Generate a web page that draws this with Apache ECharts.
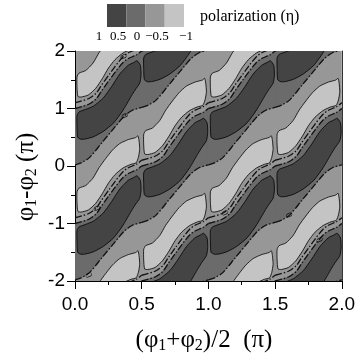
<!DOCTYPE html>
<html><head><meta charset="utf-8">
<script src="https://cdn.jsdelivr.net/npm/echarts@6/dist/echarts.min.js"></script>
<style>html,body{margin:0;padding:0;background:#fff}#c{width:358px;height:361px}</style>
</head><body><div id="c"></div><script>
// ---- data (x = (phi1+phi2)/2 in pi, y = phi1-phi2 in pi) ----
const levelColors = ['#444444', '#6b6b6b', '#979797', '#c4c4c4']; // eta: 1..0.5, 0.5..0, 0..-0.5, -0.5..-1
const levelLabels = ['1', '0.5', '0', '\u22120.5', '\u22121'];
// light blob (eta < -0.5) in one tile
const lightBlob = [[0.522,0.21],[0.515,0.365],[0.515,0.55],[0.530,0.615],[0.58,0.66],[0.635,0.79],[0.68,0.97],[0.73,1.13],[0.78,1.275],[0.835,1.39],[0.9,1.46],[0.955,1.495],[0.972,1.525],[0.98,1.44],[0.985,1.29],[0.975,1.15],[0.958,1.055],[0.92,1.03],[0.86,0.965],[0.8,0.85],[0.75,0.7],[0.705,0.52],[0.655,0.35],[0.6,0.235],[0.547,0.2]];
// dark blob (eta > 0.5) in one tile
const darkBlob = [[0.02,0.5],[0.015,0.7],[0.015,0.88],[0.03,0.94],[0.08,0.985],[0.137,1.04],[0.211,1.18],[0.274,1.38],[0.336,1.6],[0.398,1.75],[0.44,1.8],[0.465,1.83],[0.49,1.75],[0.495,1.58],[0.485,1.44],[0.45,1.32],[0.423,1.22],[0.36,0.97],[0.29,0.75],[0.211,0.6],[0.14,0.51],[0.08,0.47],[0.045,0.465]];
// eta = 0 line below-right of the dark chain
const zeroLineS = [[0,0.02],[0.05,0.06],[0.11,0.15],[0.2,0.4],[0.3,0.68],[0.37,0.87],[0.43,0.97],[0.5,1.02]];
// the two close eta = 0 lines above-left of the dark chain
const zeroLineD1 = [[0,1.0],[0.1,1.07],[0.16,1.17],[0.2,1.31],[0.25,1.47],[0.3,1.63],[0.36,1.8],[0.4,1.87],[0.46,1.93],[0.5,2.0]];
const zeroLineD2 = [[0,1.1],[0.1,1.17],[0.16,1.27],[0.2,1.41],[0.25,1.57],[0.3,1.73],[0.36,1.9],[0.4,1.97],[0.46,2.03],[0.5,2.1]];
// contour labels "0"
const zeroLabels = [[0.36,1.9],[0.37,0.87],[0.16,-0.74],[0.1,-1.9],[1.12,-0.82],[1.6,-0.86],[1.83,-1.29]];
// positions of the repeated tile
const tileOffsets = [[-0.5,-3],[0.5,-3],[1.5,-3],[-1,-2],[0,-2],[1,-2],[2,-2],[-0.5,-1],[0.5,-1],[1.5,-1],[-1,0],[0,0],[1,0],[2,0],[-0.5,1],[0.5,1],[1.5,1],[-1,2],[0,2],[1,2],[2,2],[-0.5,3],[0.5,3],[1.5,3],[-1,-4],[0,-4],[1,-4],[2,-4]];

const band = zeroLineS.concat(zeroLineD1.slice().reverse());

function shapeSeries(shape, opts) {
  return {
    type: 'custom', clip: true, silent: true, animation: false,
    data: tileOffsets,
    renderItem: function (params, api) {
      const dx = api.value(0), dy = api.value(1);
      const pts = shape.map(p => api.coord([p[0] + dx, p[1] + dy]));
      if (opts.line) {
        return { type: 'polyline', shape: { points: pts, smooth: 0.3 },
          style: { fill: null, stroke: '#111', lineWidth: 1.3, lineDash: [7, 2, 1.5, 2] } };
      }
      return { type: 'polygon', shape: { points: pts, smooth: opts.smooth || 0 },
        style: { fill: opts.fill, stroke: opts.stroke, lineWidth: opts.lw } };
    }
  };
}

const chart = echarts.init(document.getElementById('c'), null, { renderer: 'canvas' });
const serif = 'Liberation Serif';
const sans = 'Liberation Sans';
const legendX = [107, 126.25, 145.5, 164.75];
const legendLabelX = [99, 118, 137, 157, 186];
const richTitle = { t: { fontFamily: serif, fontSize: 25, fill: '#000', color: '#000' }, s: { fontFamily: serif, fontSize: 16, fill: '#000', color: '#000', verticalAlign: 'bottom', padding: [11, 0, 0, 0] } };
const graphics = [];
levelColors.forEach((c, i) => graphics.push({ type: 'rect', left: legendX[i], top: 4, shape: { width: 19.25, height: 23 }, style: { fill: c } }));
levelLabels.forEach((t, i) => graphics.push({ type: 'text', x: legendLabelX[i], y: 37, style: { text: t, font: '13px ' + serif, fill: '#000', textAlign: 'center', textVerticalAlign: 'middle', align: 'center', verticalAlign: 'middle' } }));
graphics.push({ type: 'text', x: 200, y: 17, style: { text: 'polarization (\u03b7)', font: '16px ' + serif, fill: '#000', textVerticalAlign: 'middle', verticalAlign: 'middle' } });
graphics.push({ type: 'text', x: 204, y: 340, style: { text: '{t|(\u03c6}{s|1}{t|+\u03c6}{s|2}{t|)/2  (\u03c0)}', rich: richTitle, textAlign: 'center', textVerticalAlign: 'middle', align: 'center', verticalAlign: 'middle' } });
graphics.push({ type: 'text', x: 26, y: 177, rotation: Math.PI / 2, style: { text: '{t|\u03c6}{s|1}{t|-\u03c6}{s|2}{t| (\u03c0)}', rich: richTitle, textAlign: 'center', textVerticalAlign: 'middle', align: 'center', verticalAlign: 'middle' } });

chart.setOption({
  animation: false,
  grid: { left: 75, right: 15, top: 51, bottom: 80, show: true, backgroundColor: levelColors[2], borderWidth: 0 },
  xAxis: {
    type: 'value', min: 0, max: 2, interval: 0.5,
    axisLine: { onZero: false, lineStyle: { color: '#000', width: 1 } },
    axisTick: { show: true, length: 8, inside: false, lineStyle: { color: '#000' } },
    minorTick: { show: true, splitNumber: 2, length: 4, lineStyle: { color: '#000' } },
    splitLine: { show: false },
    axisLabel: { formatter: v => v.toFixed(1), fontFamily: sans, fontSize: 19, color: '#000', margin: 14 }
  },
  yAxis: [{
    type: 'value', min: -2, max: 2, interval: 1,
    axisLine: { show: true, onZero: false, lineStyle: { color: '#000', width: 1 } },
    axisTick: { show: true, length: 8, lineStyle: { color: '#000' } },
    minorTick: { show: true, splitNumber: 2, length: 4, lineStyle: { color: '#000' } },
    splitLine: { show: false },
    axisLabel: { fontFamily: sans, fontSize: 19, color: '#000', margin: 10 }
  }, {
    type: 'value', min: -2, max: 2, position: 'right',
    axisLine: { show: true, onZero: false, lineStyle: { color: '#333', width: 1 } },
    axisTick: { show: false }, axisLabel: { show: false }, splitLine: { show: false }
  }],
  series: [
    shapeSeries(band, { fill: levelColors[1], stroke: levelColors[1], lw: 0.8 }),
    shapeSeries(darkBlob, { fill: levelColors[0], stroke: '#000', lw: 0.8, smooth: 0.2 }),
    shapeSeries(lightBlob, { fill: levelColors[3], stroke: '#000', lw: 0.8, smooth: 0.2 }),
    shapeSeries(zeroLineS, { line: true }),
    shapeSeries(zeroLineD1, { line: true }),
    shapeSeries(zeroLineD2, { line: true }),
    {
      type: 'scatter', symbolSize: 0, silent: true, clip: true, data: zeroLabels,
      label: { show: true, formatter: '0', position: 'inside', fontFamily: serif, fontSize: 10, color: '#000', rotate: -60 }
    }
  ],
  graphic: graphics
});
</script></body></html>
